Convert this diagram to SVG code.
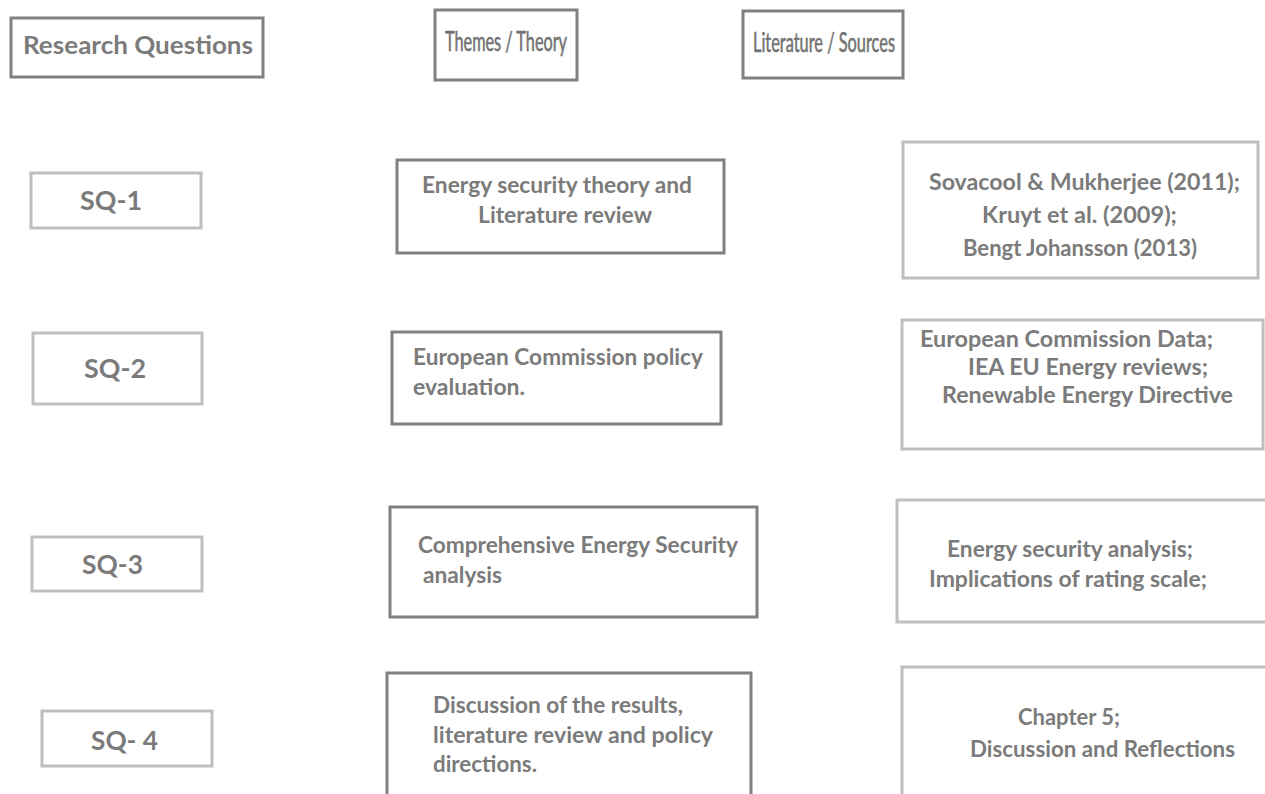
<svg xmlns="http://www.w3.org/2000/svg" width="1265" height="794" viewBox="0 0 1265 794">
  <style>
    .dark { fill: #ffffff; stroke: #808080; stroke-width: 3; }
    .light { fill: #ffffff; stroke: #bfbfbf; stroke-width: 3; }
    text { font-family: Lato, "Open Sans", "Liberation Sans", sans-serif; font-weight: 700; fill: #7b7b7b; }
    .head { font-size: 25.5px; }
    .narrow { font-size: 27px; font-weight: 400; fill: #727272; stroke: #727272; stroke-width: 0.6; }
    .sq { font-size: 27px; }
    .body { font-size: 22.5px; }
  </style>
  <rect width="1265" height="794" fill="#ffffff"/>

  <!-- column headers -->
  <g id="hdr-questions">
    <rect class="dark" x="11" y="18" width="252" height="59"/>
    <text class="head" x="23" y="54" textLength="230" lengthAdjust="spacingAndGlyphs">Research Questions</text>
  </g>
  <g id="hdr-themes">
    <rect class="dark" x="435" y="10" width="142" height="70"/>
    <text class="narrow" x="445" y="51" textLength="122" lengthAdjust="spacingAndGlyphs">Themes / Theory</text>
  </g>
  <g id="hdr-sources">
    <rect class="dark" x="743" y="11" width="160" height="67"/>
    <text class="narrow" x="753" y="52" textLength="142" lengthAdjust="spacingAndGlyphs">Literature / Sources</text>
  </g>

  <!-- row 1 -->
  <g id="sq1">
    <rect class="light" x="31" y="173" width="170" height="55"/>
    <text class="sq" x="80" y="210" textLength="62" lengthAdjust="spacingAndGlyphs">SQ-1</text>
  </g>
  <g id="theme1">
    <rect class="dark" x="397" y="160" width="327" height="93"/>
    <text class="body" x="422" y="193" textLength="270" lengthAdjust="spacingAndGlyphs">Energy security theory and</text>
    <text class="body" x="478" y="223" textLength="174" lengthAdjust="spacingAndGlyphs">Literature review</text>
  </g>
  <g id="source1">
    <rect class="light" x="903" y="142" width="355" height="136"/>
    <text class="body" x="929" y="190" textLength="311" lengthAdjust="spacingAndGlyphs">Sovacool &amp; Mukherjee (2011);</text>
    <text class="body" x="982" y="223" textLength="195" lengthAdjust="spacingAndGlyphs">Kruyt et al. (2009);</text>
    <text class="body" x="963" y="256" textLength="234" lengthAdjust="spacingAndGlyphs">Bengt Johansson (2013)</text>
  </g>

  <!-- row 2 -->
  <g id="sq2">
    <rect class="light" x="33" y="333" width="169" height="71"/>
    <text class="sq" x="84" y="378" textLength="62" lengthAdjust="spacingAndGlyphs">SQ-2</text>
  </g>
  <g id="theme2">
    <rect class="dark" x="392" y="332" width="329" height="92"/>
    <text class="body" x="413" y="365" textLength="290" lengthAdjust="spacingAndGlyphs">European Commission policy</text>
    <text class="body" x="413" y="395" textLength="112" lengthAdjust="spacingAndGlyphs">evaluation.</text>
  </g>
  <g id="source2">
    <rect class="light" x="902" y="320" width="361" height="129"/>
    <text class="body" x="920" y="347" textLength="293" lengthAdjust="spacingAndGlyphs">European Commission Data;</text>
    <text class="body" x="968" y="375" textLength="240" lengthAdjust="spacingAndGlyphs">IEA EU Energy reviews;</text>
    <text class="body" x="942" y="403" textLength="291" lengthAdjust="spacingAndGlyphs">Renewable Energy Directive</text>
  </g>

  <!-- row 3 -->
  <g id="sq3">
    <rect class="light" x="32" y="537" width="170" height="54"/>
    <text class="sq" x="82" y="574" textLength="61" lengthAdjust="spacingAndGlyphs">SQ-3</text>
  </g>
  <g id="theme3">
    <rect class="dark" x="390" y="507" width="367" height="110"/>
    <text class="body" x="418" y="553" textLength="320" lengthAdjust="spacingAndGlyphs">Comprehensive Energy Security</text>
    <text class="body" x="423" y="583" textLength="79" lengthAdjust="spacingAndGlyphs">analysis</text>
  </g>
  <g id="source3">
    <rect class="light" x="897" y="500" width="370" height="122"/>
    <text class="body" x="947" y="557" textLength="246" lengthAdjust="spacingAndGlyphs">Energy security analysis;</text>
    <text class="body" x="929" y="587" textLength="278" lengthAdjust="spacingAndGlyphs">Implications of rating scale;</text>
  </g>

  <!-- row 4 -->
  <g id="sq4">
    <rect class="light" x="42" y="711" width="170" height="55"/>
    <text class="sq" x="91" y="750" textLength="67" lengthAdjust="spacingAndGlyphs">SQ- 4</text>
  </g>
  <g id="theme4">
    <rect class="dark" x="387" y="673" width="364" height="130"/>
    <text class="body" x="433" y="713" textLength="250" lengthAdjust="spacingAndGlyphs">Discussion of the results,</text>
    <text class="body" x="433" y="743" textLength="280" lengthAdjust="spacingAndGlyphs">literature review and policy</text>
    <text class="body" x="433" y="772" textLength="104" lengthAdjust="spacingAndGlyphs">directions.</text>
  </g>
  <g id="source4">
    <rect class="light" x="902" y="667" width="370" height="140"/>
    <text class="body" x="1018" y="725" textLength="102" lengthAdjust="spacingAndGlyphs">Chapter 5;</text>
    <text class="body" x="970" y="757" textLength="265" lengthAdjust="spacingAndGlyphs">Discussion and Reflections</text>
  </g>

  <!-- connectors: none drawn between the columns -->
  <g id="connectors"/>
</svg>
